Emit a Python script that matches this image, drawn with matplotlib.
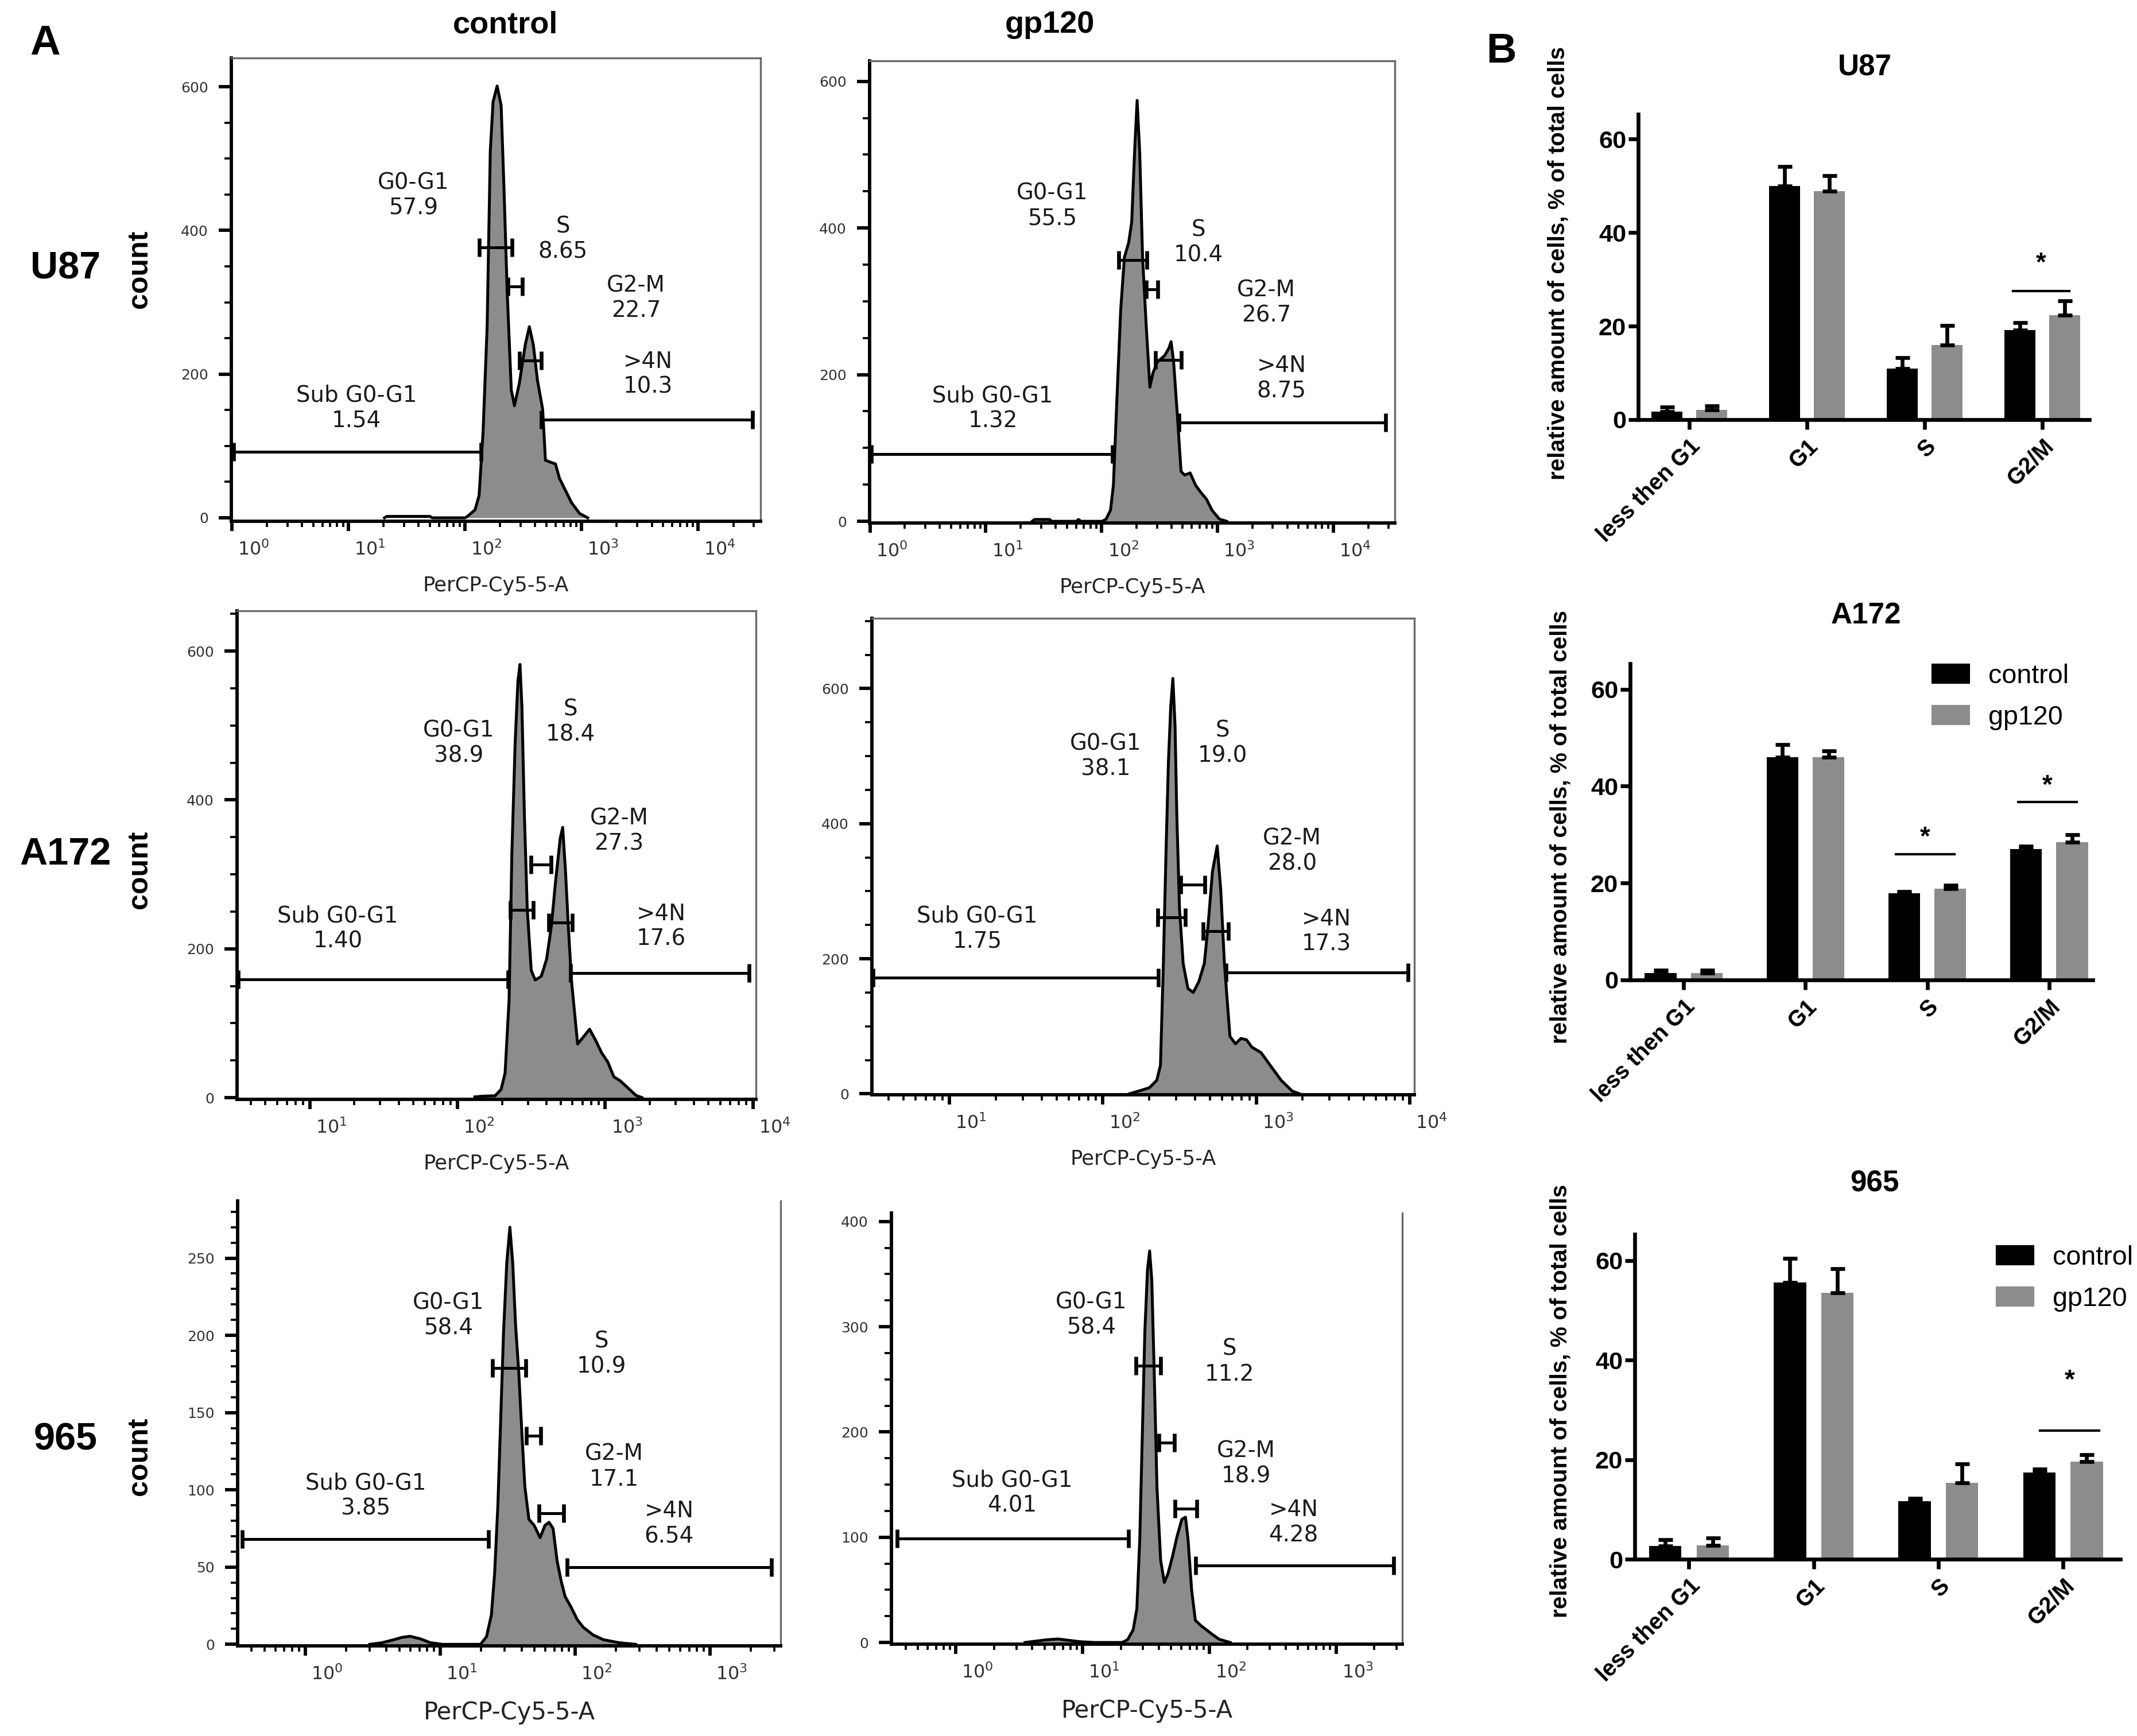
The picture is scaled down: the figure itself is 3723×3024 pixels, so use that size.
import numpy as np
import matplotlib
matplotlib.use("Agg")
import matplotlib.pyplot as plt
import matplotlib.transforms as mtransforms
from matplotlib.patches import Patch
from matplotlib.ticker import LogLocator, MultipleLocator, FuncFormatter, NullFormatter

W, H, DPI = 3723, 3024, 300
plt.rcParams["font.family"] = ["Liberation Sans", "DejaVu Sans"]

# ---------------- A: cell-cycle histograms (x = log10 PerCP-Cy5-5-A, y = count) ----------------
gate_names = ["Sub G0-G1", "G0-G1", "S", "G2-M", ">4N"]

u87_ctrl_logx = [1.31, 1.33, 1.70, 1.72, 2.0, 2.017, 2.086, 2.121, 2.155, 2.190, 2.217, 2.241, 2.276,
                 2.310, 2.334, 2.362, 2.397, 2.424, 2.466, 2.517, 2.552, 2.586, 2.621, 2.666, 2.690,
                 2.741, 2.776, 2.810, 2.862, 2.914, 2.983, 3.052]
u87_ctrl_count = [0, 2, 2, 0, 0, 1.5, 11, 31, 119, 266, 510, 579, 601, 574, 461, 315, 178, 156, 187,
                  241, 266, 241, 192, 151, 80, 77, 75, 55, 38, 21, 6, 0]
u87_ctrl_pct = ["1.54", "57.9", "8.65", "22.7", "10.3"]
u87_ctrl_gates = [(0.017, 2.138, 92), (2.121, 2.403, 376), (2.369, 2.490, 322),
                  (2.466, 2.655, 219), (2.655, 4.466, 137)]

u87_gp_logx = [1.40, 1.42, 1.55, 1.57, 1.78, 1.80, 1.82, 2.006, 2.038, 2.076, 2.101, 2.132, 2.164,
               2.196, 2.233, 2.259, 2.284, 2.306, 2.328, 2.353, 2.385, 2.416, 2.442, 2.479, 2.543,
               2.580, 2.599, 2.621, 2.653, 2.685, 2.716, 2.763, 2.811, 2.858, 2.905, 2.953, 3.016, 3.079]
u87_gp_count = [0, 2.5, 2.5, 0, 0, 2.5, 0, 0, 3, 15, 49, 169, 288, 360, 380, 408, 504, 574, 504, 360,
                265, 183, 202, 217, 226, 236, 245, 217, 145, 68, 63, 66, 49, 39, 30, 15, 3, 0]
u87_gp_pct = ["1.32", "55.5", "10.4", "26.7", "8.75"]
u87_gp_gates = [(0.013, 2.095, 92), (2.148, 2.391, 356), (2.385, 2.486, 316),
                (2.464, 2.685, 220), (2.669, 4.451, 135)]

a172_ctrl_logx = [2.117, 2.172, 2.254, 2.295, 2.322, 2.349, 2.368, 2.390, 2.409, 2.423, 2.436, 2.453,
                  2.472, 2.499, 2.526, 2.567, 2.603, 2.635, 2.663, 2.695, 2.712, 2.731, 2.750, 2.772,
                  2.813, 2.854, 2.894, 2.935, 2.976, 3.017, 3.058, 3.099, 3.154, 3.208, 3.249]
a172_ctrl_count = [1, 2, 2.5, 11, 33, 131, 328, 476, 560, 582, 525, 378, 254, 171, 158, 163, 186, 230,
                   289, 348, 363, 304, 230, 156, 72, 82, 92, 77, 60, 48, 28, 23, 13, 3, 0]
a172_ctrl_pct = ["1.40", "38.9", "18.4", "27.3", "17.6"]
a172_ctrl_gates = [(0.514, 2.341, 159), (2.357, 2.513, 252), (2.499, 2.635, 313),
                   (2.616, 2.777, 235), (2.766, 3.972, 167)]

a172_gp_logx = [2.172, 2.232, 2.303, 2.351, 2.375, 2.394, 2.411, 2.427, 2.442, 2.456, 2.470, 2.482,
                2.499, 2.523, 2.554, 2.589, 2.625, 2.661, 2.685, 2.714, 2.745, 2.768, 2.792, 2.828,
                2.864, 2.900, 2.936, 2.971, 3.031, 3.091, 3.162, 3.234, 3.282]
a172_gp_count = [0, 4, 9, 20, 42, 193, 356, 492, 573, 615, 546, 410, 275, 193, 156, 150, 166, 193,
                 248, 329, 367, 302, 193, 85, 74, 82, 80, 69, 61, 42, 20, 4, 0]
a172_gp_pct = ["1.75", "38.1", "19.0", "28.0", "17.3"]
a172_gp_gates = [(0.501, 2.363, 172), (2.358, 2.537, 261), (2.506, 2.666, 310),
                 (2.654, 2.816, 241), (2.804, 3.990, 180)]

c965_ctrl_logx = [0.478, 0.567, 0.657, 0.716, 0.776, 0.851, 0.925, 1.015, 1.299, 1.343, 1.379, 1.403,
                  1.427, 1.448, 1.469, 1.493, 1.516, 1.537, 1.558, 1.582, 1.606, 1.627, 1.657, 1.696,
                  1.740, 1.776, 1.806, 1.836, 1.866, 1.896, 1.925, 1.970, 2.015, 2.060, 2.134, 2.209,
                  2.328, 2.448]
c965_ctrl_count = [0, 1, 3, 4.5, 5.2, 3.6, 1.1, 0, 0, 5, 19, 46, 90, 146, 202, 247, 270, 247, 207, 176,
                   135, 102, 81, 77, 69, 77, 79, 75, 54, 41, 31, 24, 16, 11, 6, 3, 1, 0]
c965_ctrl_pct = ["3.85", "58.4", "10.9", "17.1", "6.54"]
c965_ctrl_gates = [(-0.469, 1.358, 68), (1.388, 1.633, 179), (1.636, 1.746, 135),
                   (1.731, 1.916, 85), (1.940, 3.454, 50)]

c965_gp_logx = [0.546, 0.633, 0.720, 0.806, 0.893, 0.980, 1.095, 1.312, 1.355, 1.399, 1.428, 1.451,
                1.471, 1.491, 1.512, 1.529, 1.546, 1.564, 1.587, 1.616, 1.645, 1.673, 1.708, 1.746,
                1.783, 1.812, 1.832, 1.861, 1.890, 1.934, 1.977, 2.020, 2.078, 2.165]
c965_gp_count = [0, 1.3, 2.6, 3.3, 2.0, 0.7, 0, 0, 2.6, 12, 32, 98, 196, 295, 354, 372, 344, 262, 147,
                 78, 57, 65, 81, 101, 117, 119, 98, 49, 21, 16, 12, 8, 3, 0]
c965_gp_pct = ["4.01", "58.4", "11.2", "18.9", "4.28"]
c965_gp_gates = [(-0.465, 1.361, 99), (1.422, 1.616, 263), (1.601, 1.725, 190),
                 (1.731, 1.899, 127), (1.890, 3.457, 73)]

# ---------------- B: mean % of cells per phase ----------------
phases = ["less then G1", "G1", "S", "G2/M"]
u87_ctrl = [1.7, 50.0, 10.9, 19.1]
u87_ctrl_err = [1.0, 4.1, 2.3, 1.6]
u87_gp = [2.1, 48.9, 16.0, 22.3]
u87_gp_err = [0.8, 3.3, 4.1, 3.1]
a172_ctrl = [1.4, 46.0, 17.9, 27.0]
a172_ctrl_err = [0.6, 2.6, 0.3, 0.6]
a172_gp = [1.4, 46.0, 18.8, 28.5]
a172_gp_err = [0.6, 1.3, 0.8, 1.5]
c965_ctrl = [2.6, 55.6, 11.7, 17.4]
c965_ctrl_err = [1.3, 4.9, 0.5, 0.7]
c965_gp = [2.8, 53.5, 15.4, 19.6]
c965_gp_err = [1.5, 4.9, 3.7, 1.4]

# ---------------- layout ----------------
fig = plt.figure(figsize=(W / DPI, H / DPI), dpi=DPI)


def px_axes(x0, y0, x1, y1):
    return fig.add_axes([x0 / W, 1 - y1 / H, (x1 - x0) / W, (y1 - y0) / H])


def ftext(x, y, s, **kw):
    fig.text(x / W, 1 - y / H, s, ha="center", va="center", **kw)


hist_panels = [
    dict(logx=u87_ctrl_logx, count=u87_ctrl_count, pct=u87_ctrl_pct, gates=u87_ctrl_gates,
         lab=[(1.069, 153), (1.559, 449), (2.838, 388), (3.466, 306), (3.569, 200)],
         box=(403, 101, 1325, 908), xlim=(-0.003, 4.534), ylim=(-4.8, 640), yst=(200, 50), top=True, xfs=8.5),
    dict(logx=u87_gp_logx, count=u87_gp_count, pct=u87_gp_pct, gates=u87_gp_gates,
         lab=[(1.060, 154), (1.574, 430), (2.836, 380), (3.420, 298), (3.552, 195)],
         box=(1515, 106, 2430, 911), xlim=(-0.003, 4.53), ylim=(-2.3, 628), yst=(200, 50), top=True, xfs=8.5),
    dict(logx=a172_ctrl_logx, count=a172_ctrl_count, pct=a172_ctrl_pct, gates=a172_ctrl_gates,
         lab=[(1.190, 227), (2.008, 476), (2.766, 505), (3.094, 358), (3.380, 230)],
         box=(413, 1064, 1317, 1915), xlim=(0.508, 4.02), ylim=(-2.3, 654), yst=(200, 50), top=True, xfs=8.5),
    dict(logx=a172_gp_logx, count=a172_gp_count, pct=a172_gp_pct, gates=a172_gp_gates,
         lab=[(1.181, 245), (2.017, 500), (2.780, 519), (3.234, 359), (3.456, 240)],
         box=(1519, 1077, 2464, 1907), xlim=(0.494, 4.03), ylim=(-1.4, 704), yst=(200, 50), top=True, xfs=8.5),
    dict(logx=c965_ctrl_logx, count=c965_ctrl_count, pct=c965_ctrl_pct, gates=c965_ctrl_gates,
         lab=[(0.448, 96), (1.060, 213), (2.194, 188), (2.290, 115), (2.696, 78)],
         box=(414, 2092, 1360, 2867), xlim=(-0.501, 3.522), ylim=(-1, 287), yst=(50, 10), top=False, xfs=10),
    dict(logx=c965_gp_logx, count=c965_gp_count, pct=c965_gp_pct, gates=c965_gp_gates,
         lab=[(0.445, 142), (1.066, 311), (2.159, 267), (2.289, 170), (2.665, 114)],
         box=(1553, 2113, 2443, 2864), xlim=(-0.509, 3.523), ylim=(-1.6, 408), yst=(100, 25), top=False, xfs=10),
]

hist_font = "DejaVu Sans"
shift = mtransforms.ScaledTranslation(9 / 72, 0, fig.dpi_scale_trans)

for p in hist_panels:
    ax = px_axes(*p["box"])
    x = 10.0 ** np.array(p["logx"])
    y = np.array(p["count"], dtype=float)
    ax.fill_between(x, y, 0, color="#8c8c8c", lw=0, zorder=2)
    ax.plot(x, y, color="black", lw=1.2, zorder=3)
    for lo, hi, gy in p["gates"]:
        ax.plot([10 ** lo, 10 ** hi], [gy, gy], color="black", lw=1.2, marker="|",
                ms=7.5, mew=1.6, zorder=4, solid_capstyle="butt")
    for name, val, (lx, ly) in zip(gate_names, p["pct"], p["lab"]):
        ax.text(10 ** lx, ly, f"{name}\n{val}", ha="center", va="center", fontsize=9.3,
                family=hist_font, color="#1a1a1a", linespacing=1.2, zorder=5)
    ax.set_xscale("log")
    ax.set_xlim(10 ** p["xlim"][0], 10 ** p["xlim"][1])
    ax.set_ylim(*p["ylim"])
    ax.xaxis.set_major_locator(LogLocator(base=10, numticks=20))
    ax.xaxis.set_minor_locator(LogLocator(base=10, subs=np.arange(2, 10), numticks=20))
    ax.xaxis.set_major_formatter(FuncFormatter(lambda v, pos: rf"$10^{{{int(round(np.log10(v)))}}}$"))
    ax.xaxis.set_minor_formatter(NullFormatter())
    ax.yaxis.set_major_locator(MultipleLocator(p["yst"][0]))
    ax.yaxis.set_minor_locator(MultipleLocator(p["yst"][1]))
    for s in ax.spines.values():
        s.set_color("#6a6a6a")
        s.set_linewidth(0.8)
    for s in ("left", "bottom"):
        ax.spines[s].set_color("black")
        ax.spines[s].set_linewidth(1.4)
    if not p["top"]:
        ax.spines["top"].set_visible(False)
    ax.tick_params(axis="both", which="both", direction="out", colors="black")
    ax.tick_params(axis="y", which="major", length=5.3, width=1.4, pad=4.3, labelsize=6,
                   labelcolor="#333333")
    ax.tick_params(axis="y", which="minor", length=2.9, width=0.9)
    ax.tick_params(axis="x", which="major", length=4, width=1.4, pad=4, labelsize=7.6,
                   labelcolor="#333333")
    ax.tick_params(axis="x", which="minor", length=2.4, width=0.9)
    for lbl in ax.get_yticklabels():
        lbl.set_family(hist_font)
    for lbl in ax.get_xticklabels():
        lbl.set_transform(lbl.get_transform() + shift)
    ax.set_xlabel("PerCP-Cy5-5-A", fontsize=p["xfs"], family=hist_font, color="#222222", labelpad=7)

# column / row headings
ftext(881, 43, "control", fontsize=13, fontweight="bold")
ftext(1829, 43, "gp120", fontsize=13, fontweight="bold")
ftext(79, 76, "A", fontsize=17.5, fontweight="bold")
ftext(2615, 90, "B", fontsize=17.5, fontweight="bold")
for name, ry, cy in [("U87", 469, 469), ("A172", 1489, 1515), ("965", 2508, 2537)]:
    ftext(114, ry, name, fontsize=16, fontweight="bold")
    ftext(243, cy, "count", fontsize=12, fontweight="bold", rotation=90)

# ---------------- bar charts ----------------
bar_panels = [
    dict(title="U87", ctrl=u87_ctrl, ce=u87_ctrl_err, gp=u87_gp, ge=u87_gp_err,
         box=(2854, 199, 3640, 731), xlim=(-0.434, 3.40), tpos=(3249, 118), ylab=(2715, 459),
         sig=[(3, -0.25, 0.23, 27.5, 34.6)], leg=None),
    dict(title="A172", ctrl=a172_ctrl, ce=a172_ctrl_err, gp=a172_gp, ge=a172_gp_err,
         box=(2840, 1156, 3646, 1707), xlim=(-0.44, 3.36), tpos=(3251, 1073), ylab=(2718, 1440),
         sig=[(2, -0.258, 0.226, 26.0, 30.6), (3, -0.252, 0.226, 36.7, 41.2)], leg=(0.654, 1.0)),
    dict(title="965", ctrl=c965_ctrl, ce=c965_ctrl_err, gp=c965_gp, ge=c965_gp_err,
         box=(2848, 2150, 3694, 2716), xlim=(-0.435, 3.46), tpos=(3266, 2062), ylab=(2718, 2440),
         sig=[(3, -0.183, 0.290, 25.8, 37.0)], leg=(0.746, 0.966)),
]

gp_gray = "#8c8c8c"
for b in bar_panels:
    ax = px_axes(*b["box"])
    xs = np.arange(len(phases))
    zero = np.zeros(len(phases))
    ax.bar(xs - 0.19, b["ctrl"], 0.26, color="black", zorder=2)
    ax.bar(xs + 0.19, b["gp"], 0.26, color=gp_gray, zorder=2)
    for off, vals, err in [(-0.19, b["ctrl"], b["ce"]), (0.19, b["gp"], b["ge"])]:
        ax.errorbar(xs + off, vals, yerr=[zero, err], fmt="none", ecolor="black",
                    elinewidth=1.6, capsize=3, capthick=1.6, zorder=3)
    for cat, lo, hi, ly, sy in b["sig"]:
        ax.plot([cat + lo, cat + hi], [ly, ly], color="black", lw=1.0, zorder=3)
        ax.annotate("*", xy=(cat + (lo + hi) / 2, sy), xytext=(0, -2.6), textcoords="offset points",
                    ha="center", va="center", fontsize=11, fontweight="bold")
    ax.set_xlim(*b["xlim"])
    ax.set_ylim(0, 65.3)
    ax.set_yticks([0, 20, 40, 60])
    ax.set_xticks(xs)
    ax.set_xticklabels(phases, rotation=45, ha="right", va="top", rotation_mode="anchor")
    for s in ("top", "right"):
        ax.spines[s].set_visible(False)
    for s in ("left", "bottom"):
        ax.spines[s].set_linewidth(1.6)
    ax.tick_params(axis="both", direction="out", length=4, width=1.6, labelsize=10.4)
    ax.tick_params(axis="y", pad=1)
    ax.tick_params(axis="x", pad=2.5, labelsize=9.5)
    for lbl in ax.get_xticklabels() + ax.get_yticklabels():
        lbl.set_fontweight("bold")
    ftext(*b["tpos"], b["title"], fontsize=12.3, fontweight="bold")
    ftext(*b["ylab"], "relative amount of cells, % of total cells", fontsize=9.7,
          fontweight="bold", rotation=90)
    if b["leg"] is not None:
        ax.legend(handles=[Patch(color="black"), Patch(color=gp_gray)], labels=["control", "gp120"],
                  loc="upper left", bbox_to_anchor=b["leg"], frameon=False, fontsize=11.2,
                  handlelength=1.35, handleheight=0.64, handletextpad=0.73, labelspacing=0.6,
                  borderpad=0, borderaxespad=0)

fig.savefig("out.png", dpi=DPI, facecolor="white")
